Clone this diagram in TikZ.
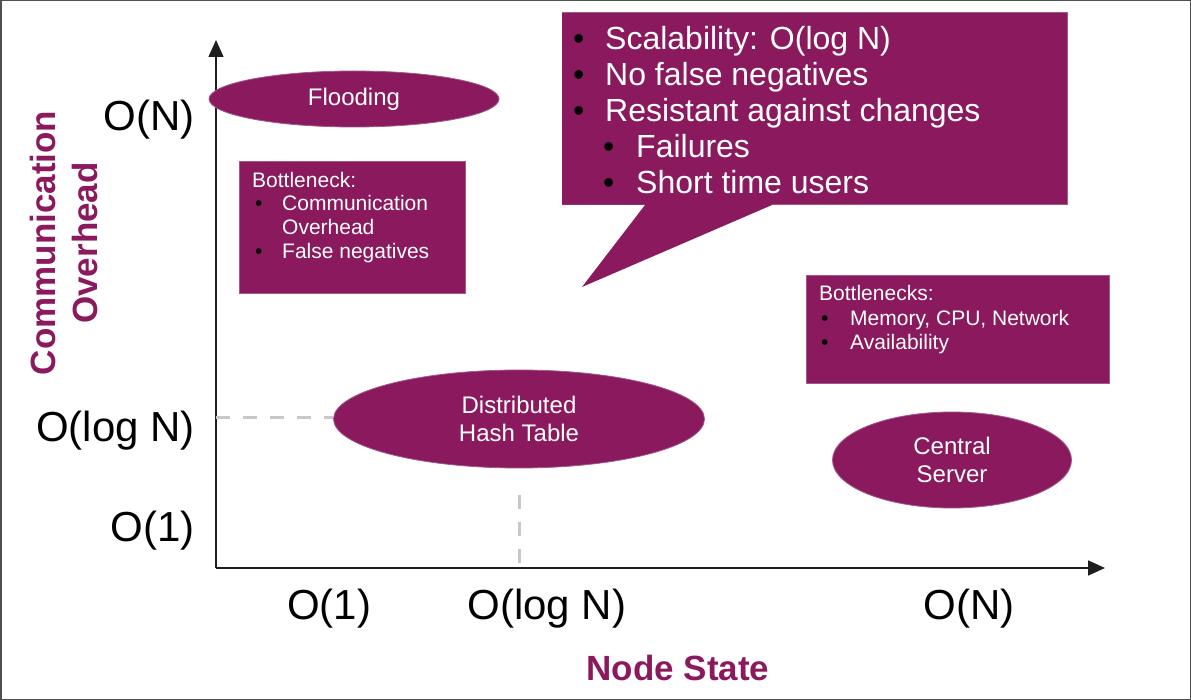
\documentclass[tikz,border=0pt]{standalone}
\usepackage{fontspec}
\setmainfont{Liberation Sans}
\usetikzlibrary{shapes.geometric,arrows.meta}
\definecolor{plum}{RGB}{139,25,94}
\definecolor{plumedge}{RGB}{160,90,140}
\definecolor{dashgray}{RGB}{200,200,200}
\definecolor{axisgray}{RGB}{30,30,30}
\definecolor{framegray}{RGB}{80,80,80}
\begin{document}
\begin{tikzpicture}[x=1pt,y=-1pt,
  blob/.style={ellipse, fill=plum, draw=plumedge, line width=0.8pt, text=white, align=center,
    font=\fontsize{24}{28}\selectfont, inner sep=0pt},
  panel/.style={rectangle, fill=plum, draw=plumedge, line width=1pt, anchor=north west, inner sep=0pt},
  big/.style={font=\fontsize{32}{36}\selectfont, text=white, inner sep=0pt, anchor=base west},
  small/.style={font=\fontsize{21}{24}\selectfont, text=white, inner sep=0pt, anchor=base west},
  bigdot/.style={font=\fontsize{32}{36}\selectfont, text=black, inner sep=0pt, anchor=base west},
  smalldot/.style={font=\fontsize{21}{24}\selectfont, text=black, inner sep=0pt, anchor=base west},
  tick/.style={font=\fontsize{42}{48}\selectfont, text=black, inner sep=0pt},
  axlabel/.style={font=\fontsize{35}{42}\selectfont\bfseries, text=plum, inner sep=0pt, align=center},
  axis/.style={draw=axisgray, line width=1.5pt, -{Triangle[length=17pt,width=15pt]}},
  guide/.style={draw=dashgray, line width=3pt, dash pattern=on 14pt off 13pt}
]
\useasboundingbox (0,0) rectangle (1191,700);
\draw[framegray, line width=1.5pt] (0.75,0.75) rectangle (1190.25,699.25);

% axes
\coordinate (origin) at (216,568);
\coordinate (ytop) at (216,40);
\coordinate (xend) at (1105,568);
\draw[axis] (origin) -- (ytop);
\draw[axis] (origin) -- (xend);

% tick labels
\node[tick, anchor=base east] (yN) at (195,131) {O(N)};
\node[tick, anchor=base east] (ylog) at (195,441) {O(log N)};
\node[tick, anchor=base east] (y1) at (195,541) {O(1)};
\node[tick, anchor=base] (x1) at (329,619) {O(1)};
\node[tick, anchor=base] (xlog) at (547,619) {O(log N)};
\node[tick, anchor=base] (xN) at (969,619) {O(N)};

% axis labels
\node[axlabel, anchor=base] (xlabel) at (678,680) {Node State};
\node[axlabel, rotate=90] (ylabel) at (64,243) {Communication\\Overhead};

% ellipses
\node[blob, minimum width=290pt, minimum height=56pt] (flood) at (354,99) {Flooding};
\node[blob, minimum width=371pt, minimum height=98pt] (dht) at (519,419) {Distributed\\Hash Table};
\node[blob, minimum width=239pt, minimum height=96pt] (cs) at (952,460) {Central\\Server};

% guides
\coordinate (yl) at (216,417);
\draw[guide] (yl) -- (yl -| dht.west);
\coordinate (dhtdown) at (519,495);
\draw[guide] (dhtdown) -- (dhtdown |- origin);

% bottleneck box 1
\node[panel, minimum width=226pt, minimum height=132pt] (box1) at (239,161) {};
\node[small] (b1t) at (252,187.5) {Bottleneck:};
\node[smalldot] (b1d1) at (255,210.5) {•};
\node[small] (b1a) at (282,210.5) {Communication};
\node[small] (b1b) at (282,234.5) {Overhead};
\node[smalldot] (b1d2) at (255,258.5) {•};
\node[small] (b1c) at (282,258.5) {False negatives};

% bottleneck box 2
\node[panel, minimum width=303pt, minimum height=108pt] (box2) at (806,275) {};
\node[small] (b2t) at (819,300.5) {Bottlenecks:};
\node[smalldot] (b2d1) at (821,325.5) {•};
\node[small] (b2a) at (850,325.5) {Memory, CPU, Network};
\node[smalldot] (b2d2) at (821,349.5) {•};
\node[small] (b2b) at (850,349.5) {Availability};

% callout
\fill[plum] (562,13) -- (1067,13) -- (1067,205) -- (772,205) -- (582,287) -- (645,205) -- (562,205) -- cycle;
\draw[plumedge, line width=1pt] (562,13) -- (1067,13) -- (1067,205) -- (772,205);
\draw[plumedge, line width=1pt] (645,205) -- (562,205) -- cycle;
\node[bigdot] (cd1) at (573,49.5) {•};
\node[big] (c1) at (605,49.5) {Scalability: O(log N)};
\node[bigdot] (cd2) at (573,85.5) {•};
\node[big] (c2) at (605,85.5) {No false negatives};
\node[bigdot] (cd3) at (573,121.5) {•};
\node[big] (c3) at (605,121.5) {Resistant against changes};
\node[bigdot] (cd4) at (603,157.5) {•};
\node[big] (c4) at (636,157.5) {Failures};
\node[bigdot] (cd5) at (603,193.5) {•};
\node[big] (c5) at (636,193.5) {Short time users};
\end{tikzpicture}
\end{document}
